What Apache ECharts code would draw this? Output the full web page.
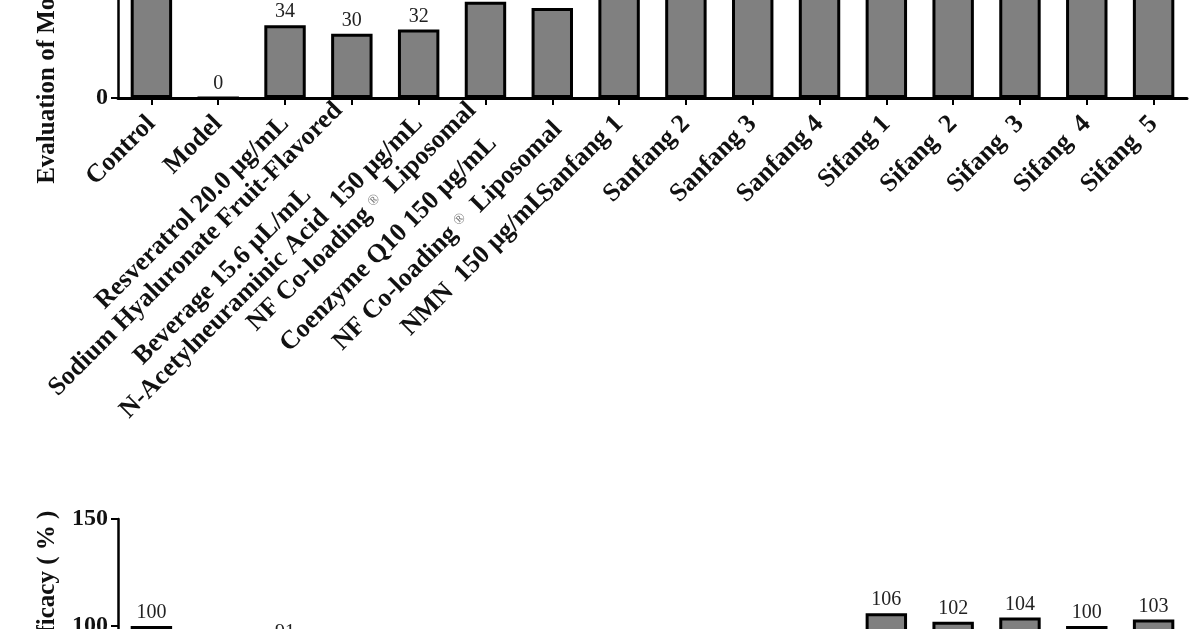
<!DOCTYPE html>
<html>
<head>
<meta charset="utf-8">
<title>Efficacy evaluation</title>
<script src="https://cdn.jsdelivr.net/npm/echarts@6.0.0/dist/echarts.min.js"></script>
<style>
  html, body { margin: 0; padding: 0; background: #fff; }
  #chart { width: 1200px; height: 629px; }
</style>
</head>
<body>
<div id="chart"></div>
<script>
  // categories (a line break = a second line of the label)
  const categories = [
    'Control',
    'Model',
    'Resveratrol 20.0 μg/mL',
    'Sodium Hyaluronate Fruit-Flavored\nBeverage 15.6 μL/mL',
    'N-Acetylneuraminic Acid  150 μg/mL',
    'NF Co-loading® Liposomal\nCoenzyme Q10 150 μg/mL',
    'NF Co-loading® Liposomal\nNMN  150 μg/mL',
    'Sanfang 1', 'Sanfang 2', 'Sanfang 3', 'Sanfang 4',
    'Sifang 1', 'Sifang  2', 'Sifang  3', 'Sifang  4', 'Sifang  5'
  ];
  // upper panel (only the lower part is visible)
  const topValues = [100, 0, 34, 30, 32, 45, 42, 70, 72, 75, 68, 86, 80, 84, 78, 82];
  // lower panel (only the upper part is visible)
  const bottomValues = [100, 62, 91, 82, 85, 84, 86, 84, 86, 83, 85, 106, 102, 104, 100, 103];
  const topAxisName = 'Evaluation of Moisturizing Efficacy ( % )';
  const bottomAxisName = 'Evaluation of Repair Efficacy ( % )';
  const topTicks = { min: 0, max: 100, interval: 50 };
  const bottomTicks = { min: 0, max: 150, interval: 50 };

  const serif = '"Liberation Serif", "DejaVu Serif", serif';
  const pxPerUnit = 2.14;

  // every line centred inside the rotated block, ® set smaller
  // (the NMN label sits a bit further from the axis in the original)
  function labelFormatter(val, idx) {
    let txt = val.split('\n').map(s => '{c|' + s.replace('®', ' }{r|®}{c| ') + '}').join('\n');
    if (idx === 6) txt = '{g| }\n' + txt;
    return txt;
  }

  function xAxis(idx) {
    return {
      type: 'category',
      gridIndex: idx,
      data: categories,
      axisLine: { lineStyle: { color: '#000', width: 3 } },
      axisTick: { show: true, alignWithLabel: true, length: 7, lineStyle: { color: '#000', width: 2 } },
      axisLabel: {
        interval: 0,
        rotate: 45,
        margin: 22,
        formatter: labelFormatter,
        rich: {
          c: {
            align: 'center',
            fontFamily: serif,
            fontWeight: 'bold',
            fontSize: 26,
            lineHeight: 38,
            color: '#111'
          },
          r: {
            align: 'center',
            fontFamily: serif,
            fontSize: 15,
            lineHeight: 30,
            padding: [0, 0, 6, 0],
            color: '#777'
          },
          g: { fontSize: 10, lineHeight: 54 }
        }
      },
      splitLine: { show: false }
    };
  }

  function yAxis(idx, ticks, name, pad) {
    return {
      type: 'value',
      gridIndex: idx,
      min: ticks.min,
      max: ticks.max,
      interval: ticks.interval,
      name: name,
      nameLocation: 'middle',
      nameGap: 58,
      nameTextStyle: { fontFamily: serif, fontWeight: 'bold', fontSize: 25, color: '#111', padding: pad },
      axisLine: { show: true, lineStyle: { color: '#000', width: 2.5 } },
      axisTick: { show: true, length: 7, lineStyle: { color: '#000', width: 2 } },
      axisLabel: { fontFamily: serif, fontWeight: 'bold', fontSize: 24, color: '#111', margin: 10 },
      splitLine: { show: false }
    };
  }

  function barSeries(idx, values) {
    return {
      type: 'bar',
      xAxisIndex: idx,
      yAxisIndex: idx,
      data: values,
      barWidth: '62%',
      itemStyle: { color: '#808080', borderColor: '#000', borderWidth: 3 },
      label: {
        show: true,
        position: 'top',
        distance: 3,
        fontFamily: serif,
        fontSize: 20,
        color: '#222'
      }
    };
  }

  const chart = echarts.init(document.getElementById('chart'), null, { renderer: 'canvas' });

  const topHeight = topTicks.max * pxPerUnit;
  const bottomHeight = bottomTicks.max * pxPerUnit;

  chart.setOption({
    backgroundColor: '#fff',
    animation: false,
    grid: [
      { left: 118, right: 13, top: 98 - topHeight, height: topHeight, outerBoundsMode: 'none', containLabel: false },
      { left: 118, right: 13, top: 519, height: bottomHeight, outerBoundsMode: 'none', containLabel: false }
    ],
    xAxis: [xAxis(0), xAxis(1)],
    yAxis: [
      yAxis(0, topTicks, topAxisName, [0, 0, 0, 56]),
      yAxis(1, bottomTicks, bottomAxisName, [0, 40, 0, 0])
    ],
    series: [barSeries(0, topValues), barSeries(1, bottomValues)]
  });

  window.addEventListener('resize', () => {
    chart.resize();
  });
</script>
</body>
</html>
